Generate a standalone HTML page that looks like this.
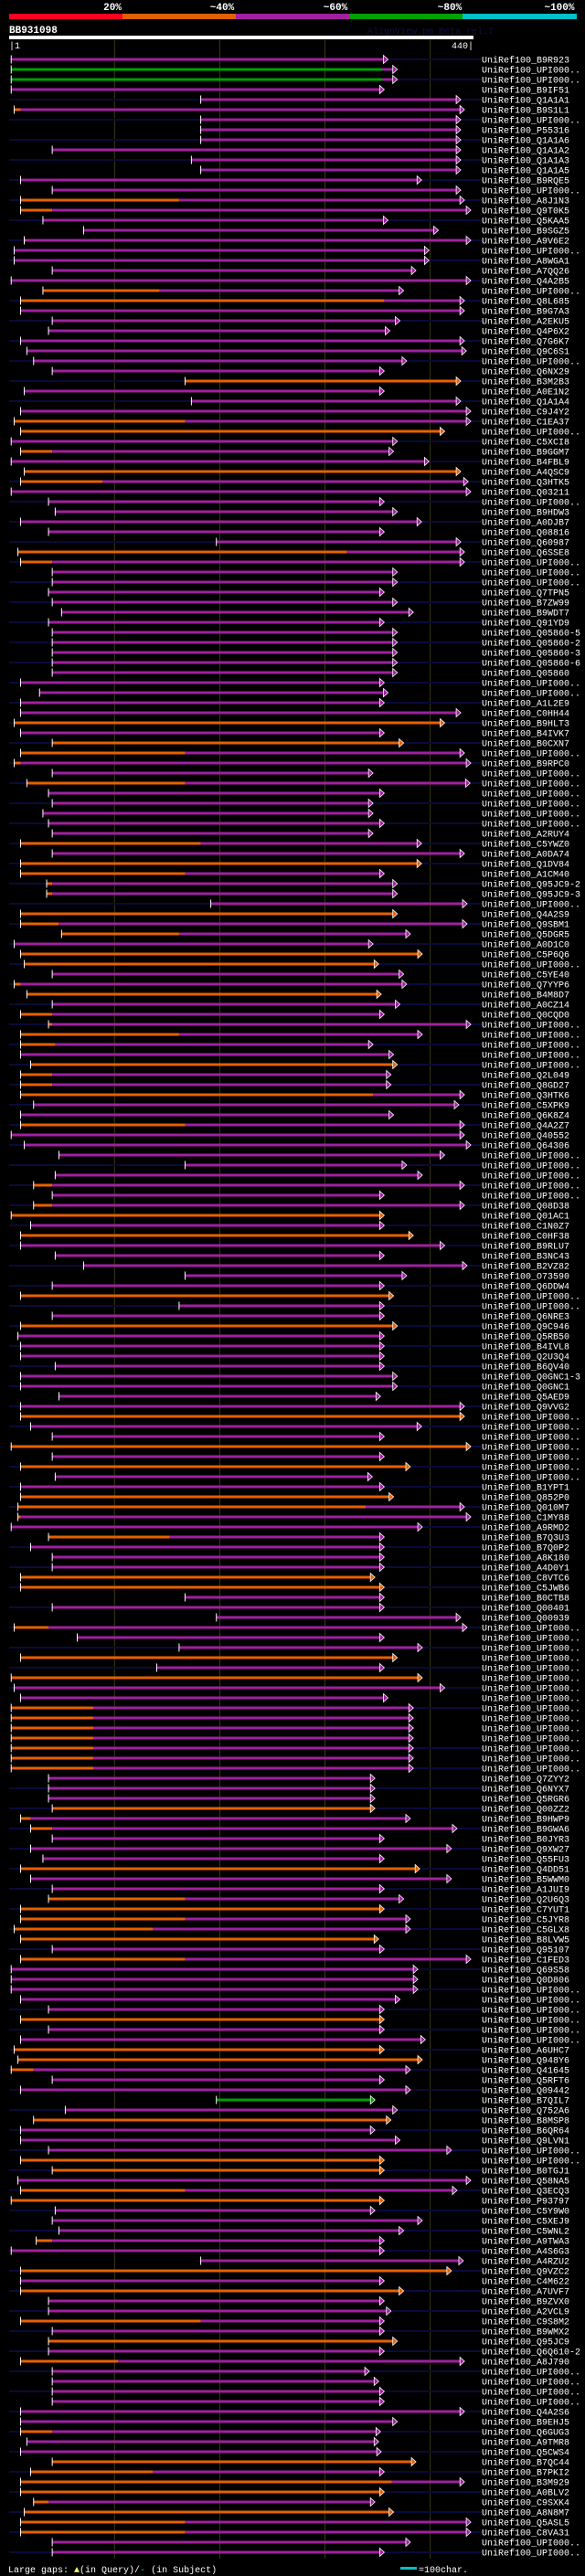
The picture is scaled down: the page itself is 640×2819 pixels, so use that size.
<!DOCTYPE html>
<html><head><meta charset="utf-8">
<style>
html,body{margin:0;padding:0;background:#000;}
body{width:640px;height:2819px;overflow:hidden;position:relative;font-family:"Liberation Mono",monospace;}
svg{position:absolute;left:0;top:0;}
</style></head>
<body>
<svg id="chart" width="640" height="2819" xmlns="http://www.w3.org/2000/svg">
  <g font-family="Liberation Mono, monospace" font-weight="bold" font-size="11" fill="#fff" text-anchor="middle">
    <text x="123" y="11">20%</text>
    <text x="243" y="11">~40%</text>
    <text x="367" y="11">~60%</text>
    <text x="492" y="11">~80%</text>
    <text x="612" y="11">~100%</text>
    <rect x="10" y="15" width="124" height="6" fill="#ff0020"/>
    <rect x="134" y="15" width="124" height="6" fill="#e06000"/>
    <rect x="258" y="15" width="124" height="6" fill="#a020a0"/>
    <rect x="382" y="15" width="124" height="6" fill="#00a000"/>
    <rect x="506" y="15" width="125" height="6" fill="#00c0c8"/>
  </g>
  <text x="10" y="36" font-size="11" font-weight="bold" fill="#fff" font-family="Liberation Mono, monospace">BB931098</text>
  <text x="402" y="37" font-size="10" fill="#101048" font-family="Liberation Mono, monospace">AlignView.pm Beta rel.7</text>
  <rect x="10" y="39" width="508" height="4" fill="#fff"/>
  <text x="10" y="53" font-size="10" fill="#fff" font-family="Liberation Mono, monospace">|1</text>
  <text x="518" y="53" font-size="10" fill="#fff" text-anchor="end" font-family="Liberation Mono, monospace">440|</text>
  <g id="grid"></g>
  <g id="rows"></g>
  <g font-family="Liberation Mono, monospace" font-size="10" fill="#fff">
    <text x="9" y="2815">Large gaps: <tspan fill="#ffff60">▲</tspan>(in Query)/<tspan fill="#00c0c8">-</tspan> (in Subject)</text>
    <rect x="438" y="2809" width="18" height="3" fill="#00c0c8"/>
    <text x="458" y="2815">=100char.</text>
  </g>
</svg>
<script>
// Alignment data (positions in alignment-view units; scale 2.45 units per pixel)
const gridPositions = [307, 589, 871, 1153];
const hitRows = [
"B9R923 30 0 1040 1","UPI000.. 30 g1025 1065 0","UPI000.. 30 g1025 1065 1","B9IF51 30 0 1030 0",
"Q1A1A1 538 0 1235 1","B9S1L1 38 55 1245 0","UPI000.. 538 0 1235 1","P55316 538 0 1235 0",
"Q1A1A6 538 0 1235 1","Q1A1A2 140 0 1235 0","Q1A1A3 513 0 1235 1","Q1A1A5 538 0 1235 0",
"B9RQE5 55 0 1130 1","UPI000.. 140 0 1235 0","A8J1N3 55 480 1245 1","Q9T0K5 55 140 1262 0",
"Q5KAA5 115 0 1040 1","B9SGZ5 224 0 1175 0","A9V6E2 65 70 1262 1","UPI000.. 38 0 1150 0",
"A8WGA1 38 0 1150 1","A7QQ26 140 0 1115 0","Q4A2B5 30 0 1262 1","UPI000.. 115 428 1082 0",
"Q8L685 55 1030 1245 1","B9G7A3 55 0 1245 0","A2EKU5 140 0 1072 1",
"Q4P6X2 130 0 1045 0","Q7G6K7 55 0 1245 1","Q9C6S1 72 0 1250 0","UPI000.. 90 0 1090 1",
"Q6NX29 140 0 1030 0","B3M2B3 496 O 1235 1","A0E1N2 65 0 1030 0","Q1A1A4 513 0 1235 1",
"C9J4Y2 55 0 1262 0","C1EA37 38 496 1262 1","UPI000.. 55 O 1192 0","C5XCI8 30 0 1065 1",
"B9GGM7 55 140 1055 0","B4FBL9 30 0 1150 1","A4QSC9 65 O 1235 0","Q3HTK5 55 275 1255 1",
"Q03211 30 0 1262 0","UPI000.. 130 0 1030 1","B9HDW3 148 0 1065 0","A0DJB7 55 0 1130 1",
"Q08816 130 0 1030 0","Q60987 580 0 1235 1","Q6SSE8 48 930 1245 0","UPI000.. 55 140 1245 1",
"UPI000.. 140 0 1065 0","UPI000.. 140 0 1065 1","Q7TPN5 130 0 1030 0",
"B7ZW99 140 0 1065 1","B9WDT7 165 0 1108 0","Q91YD9 130 0 1030 1","Q05860-5 140 0 1065 0",
"Q05860-2 140 0 1065 1","Q05860-3 140 0 1065 0","Q05860-6 140 0 1065 1","Q05860 140 0 1065 0",
"UPI000.. 55 0 1030 1","UPI000.. 106 0 1040 0","A1L2E9 55 0 1030 1","C0HH44 55 0 1235 0",
"B9HLT3 38 O 1192 1","B4IVK7 55 0 1030 0","B0CXN7 140 O 1082 1","UPI000.. 55 496 1245 0",
"B9RPC0 38 55 1262 1","UPI000.. 140 0 1000 0","UPI000.. 72 496 1260 1","UPI000.. 130 0 1030 0",
"UPI000.. 140 0 1000 1","UPI000.. 115 0 1000 0","UPI000.. 130 0 1030 1","A2RUY4 140 0 1000 0",
"C5YWZ0 55 538 1130 1","A0DA74 140 0 1245 0","Q1DV84 55 O 1130 1",
"A1CM40 55 496 1030 0","Q95JC9-2 125 140 1065 1","Q95JC9-3 125 140 1065 0","UPI000.. 565 0 1252 1",
"Q4A2S9 55 O 1065 0","Q9SBM1 55 157 1252 1","Q5DGR5 165 480 1100 0","A0D1C0 38 0 1000 1",
"C5P6Q6 55 O 1132 0","UPI000.. 65 O 1015 1","C5YE40 140 0 1082 0","Q7YYP6 38 55 1090 1",
"B4M8D7 72 O 1022 0","A0CZ14 140 0 1072 1","Q0CQD0 55 140 1030 0","UPI000.. 130 140 1262 1",
"UPI000.. 55 480 1132 0","UPI000.. 55 148 1000 1","UPI000.. 55 0 1055 0","UPI000.. 82 O 1065 1",
"Q2L049 55 140 1048 0","Q8GD27 55 140 1048 1","Q3HTK6 55 1000 1245 0","C5XPK9 90 0 1230 1",
"Q6K8Z4 55 0 1055 0","Q4A2Z7 55 496 1245 1","Q40552 30 0 1245 0",
"Q64306 65 0 1262 1","UPI000.. 158 0 1192 0","UPI000.. 496 0 1090 1","UPI000.. 148 0 1132 0",
"UPI000.. 90 140 1245 1","UPI000.. 140 0 1030 0","Q08D38 90 140 1245 1","Q01AC1 30 O 1030 0",
"C1N0Z7 82 0 1030 1","C0HF38 55 O 1108 0","B9RLU7 55 0 1192 1","B3NC43 148 0 1030 0",
"B2VZ82 224 0 1252 1","O73590 496 0 1090 0","Q6DDW4 140 0 1030 1","UPI000.. 55 O 1055 0",
"UPI000.. 480 0 1030 1","Q6NRE3 140 0 1030 0","Q9C946 55 O 1065 1","Q5RB50 48 0 1030 0",
"B4IVL8 55 0 1030 1","Q2U3Q4 55 0 1030 0","B6QV40 148 0 1030 1","Q0GNC1-3 55 0 1065 0",
"Q0GNC1 55 0 1065 1","Q5AED9 158 0 1020 0","Q9VVG2 55 0 1245 1",
"UPI000.. 55 O 1245 0","UPI000.. 82 0 1130 1","UPI000.. 140 0 1030 0","UPI000.. 30 O 1262 1",
"UPI000.. 140 0 1030 0","UPI000.. 55 O 1100 1","UPI000.. 148 0 998 0","B1YPT1 55 0 1030 1",
"Q852P0 55 O 1055 0","Q010M7 48 980 1245 1","C1MY88 48 55 1262 0","A9RMD2 30 0 1132 1",
"B7Q3U3 130 455 1030 0","B7Q0P2 82 0 1030 1","A8K180 140 0 1030 0","A4D0Y1 140 0 1030 1",
"C8VTC6 55 O 1005 0","C5JWB6 55 O 1030 1","B0CTB8 496 0 1030 0","Q00401 140 0 1030 1",
"Q00939 580 0 1235 0","UPI000.. 38 130 1252 1","UPI000.. 207 0 1030 0","UPI000.. 480 0 1132 1",
"UPI000.. 55 O 1065 0","UPI000.. 420 0 1030 1","UPI000.. 30 O 1132 0",
"UPI000.. 38 0 1192 1","UPI000.. 55 0 1040 0","UPI000.. 30 250 1108 1","UPI000.. 30 250 1108 0",
"UPI000.. 30 250 1108 0","UPI000.. 30 250 1108 0","UPI000.. 30 250 1108 1","UPI000.. 30 250 1108 0",
"UPI000.. 30 250 1108 1","Q7ZYY2 130 0 1005 0","Q6NYX7 130 0 1005 1","Q5RGR6 130 0 1005 0",
"Q00ZZ2 140 O 1005 1","B9HWP9 55 82 1100 0","B9GWA6 82 140 1225 1","B0JYR3 140 0 1030 0",
"Q9XW27 82 0 1210 1","Q55FU3 115 0 1030 0","Q4DD51 55 O 1125 1","B5WWM0 82 0 1210 0",
"A1JUI9 140 0 1030 1","Q2U6Q3 130 496 1082 0","C7YUT1 55 O 1030 1","C5JYR8 55 496 1100 0",
"C5GLX8 38 410 1100 1","B8LVW5 55 O 1015 0","Q95107 140 0 1030 1",
"C1FED3 55 496 1262 0","Q69S58 30 0 1120 1","Q0D806 30 0 1120 0","UPI000.. 30 0 1120 1",
"UPI000.. 55 0 1072 0","UPI000.. 130 0 1030 1","UPI000.. 55 O 1030 0","UPI000.. 130 0 1030 1",
"UPI000.. 55 0 1140 0","A6UHC7 38 O 1030 1","Q948Y6 48 O 1132 0","Q41645 30 90 1100 1",
"Q5RFT6 140 0 1030 0","Q09442 55 0 1100 1","B7QIL7 580 g1005 1005 0","Q752A6 175 0 1065 1",
"B8MSP8 90 O 1048 0","B6QR64 55 0 1005 1","Q9LVN1 55 0 1072 0","UPI000.. 130 0 1210 1",
"UPI000.. 55 O 1030 0","B0TGJ1 140 O 1030 1","Q58NA5 48 0 1262 0","Q3ECQ3 55 496 1225 1",
"P93797 30 O 1030 0","C5Y9W0 148 0 1005 1","C5XEJ9 140 0 1132 0",
"C5WNL2 158 0 1082 1","A9TWA3 97 140 1030 0","A4S6G3 30 0 1030 1","A4RZU2 538 0 1242 0",
"Q9VZC2 55 O 1210 1","C4M622 55 0 1030 0","A7UVF7 55 O 1082 1","B9ZVX0 130 0 1030 0",
"A2VCL9 130 0 1048 1","C9S8M2 55 538 1030 0","B9WMX2 140 0 1030 1","Q95JC9 130 O 1065 0",
"Q6Q610-2 130 0 1030 1","A8J790 55 317 1245 0","UPI000.. 140 0 990 1","UPI000.. 140 0 1015 0",
"UPI000.. 140 0 1030 1","UPI000.. 140 0 1030 0","Q4A2S6 55 0 1245 1","B9EHJ5 55 0 1065 0",
"Q6GUG3 55 140 1020 1","A9TMR8 72 0 1015 0","Q5CWS4 55 0 1022 1","B7QC44 140 O 1115 0",
"B7PKI2 82 410 1030 1","B3M929 55 1050 1245 0","A0BLV2 55 O 1030 1","C9SXK4 90 130 1005 0",
"A8N8M7 65 O 1055 1","Q5ASL5 55 496 1262 0","C8VA31 55 496 1262 1","UPI000.. 140 0 1100 0",
"UPI000.. 140 0 1030 1"
];
const labels = hitRows.map(r => r.split(" ")[0]);
const starts = hitRows.map(r => +r.split(" ")[1]);
const prefixEnds = hitRows.map(r => r.split(" ")[2]);
const ends = hitRows.map(r => +r.split(" ")[3]);
const navFlags = hitRows.map(r => +r.split(" ")[4]);

const NS = "http://www.w3.org/2000/svg";
const xScale = v => v / 2.45;
const yRow = i => 65 + i * 11;
const COL = {P:"#a020a0", O:"#e86000", G:"#00a000"};
function mk(tag, attrs, parent){const e=document.createElementNS(NS,tag);for(const k in attrs)e.setAttribute(k,attrs[k]);parent.appendChild(e);return e;}

const grid = document.getElementById("grid");
gridPositions.forEach(g => {
  const l = mk("line",{x1:xScale(g),x2:xScale(g),y1:44,y2:2800,stroke:"#3a3a12","stroke-width":1},grid);
  
  
});

const rowsG = document.getElementById("rows");
labels.forEach((lab, i) => {
  const y = yRow(i);
  const g = mk("g",{},rowsG);
  
  
  if (navFlags[i]) {
    const n = mk("rect",{x:10,y:y-1,width:517,height:2,fill:"#0a0a3a"},g);
    
    
  }
  const s = xScale(starts[i]), e = xScale(ends[i]);
  const pe = prefixEnds[i];
  let mainColor = COL.P, split = s;
  if (pe === "O") { mainColor = COL.O; }
  else if (pe[0] === "g") { split = xScale(+pe.slice(1)); const gb = mk("rect",{x:s,y:y-1.5,width:split-s,height:3,fill:COL.G},g);   }
  else if (+pe > 0) { split = xScale(+pe); const ob = mk("rect",{x:s,y:y-1.5,width:split-s,height:3,fill:COL.O},g);   }
  const arrowColor = (pe[0]==="g" && split>=e) ? COL.G : mainColor;
  if (e - 4 > split) {
    const mb = mk("rect",{x:split,y:y-1.5,width:e-4-split,height:3,fill:mainColor},g);
    
    
  }
  const a = mk("polygon",{points:`${e-5},${y-4.5} ${e},${y} ${e-5},${y+4.5}`,fill:arrowColor,stroke:"#fff","stroke-width":0.8},g);
  
  
  const t = mk("line",{x1:s,x2:s,y1:y-4.5,y2:y+4.5,stroke:"#fff","stroke-width":1},g);
  
  
  const tx = mk("text",{x:527,y:y+3.5,fill:"#fff","font-size":10,"font-family":"Liberation Mono, monospace"},g);
  tx.textContent = "UniRef100_" + lab;
  
  
});
</script>
</body></html>
